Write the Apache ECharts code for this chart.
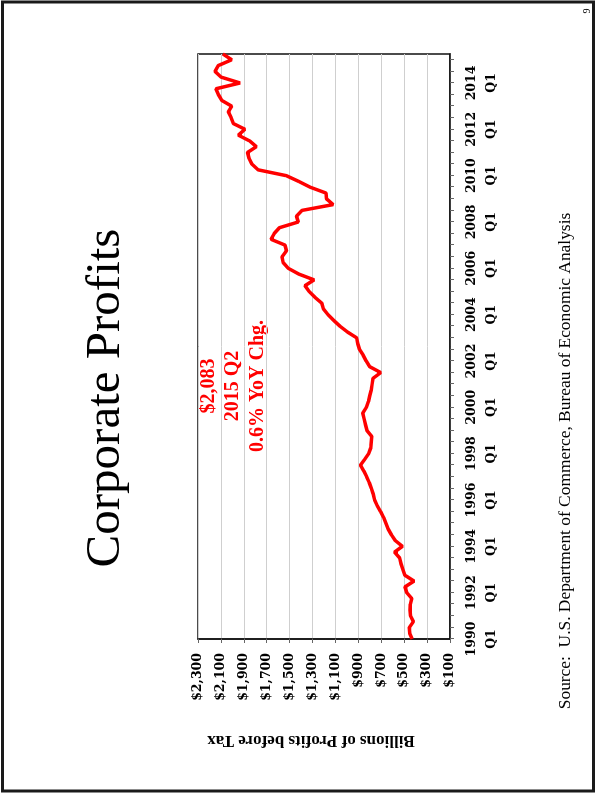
<!DOCTYPE html>
<html>
<head>
<meta charset="utf-8">
<script src="https://cdn.jsdelivr.net/npm/echarts@6/dist/echarts.min.js"></script>
<style>
  html, body { margin: 0; padding: 0; background: #fff; overflow: hidden; }
  /* the slide is drawn landscape and turned a quarter turn, like the printed page */
  #page {
    position: absolute; left: 0; top: 797px;
    width: 797px; height: 597px;
    transform-origin: 0 0; transform: rotate(-90deg);
  }
</style>
</head>
<body>
<div id="page"></div>
<script>
// quarters 1990 Q1 .. 2015 Q2
const quarters = [];
for (let y = 1990; y <= 2015; y++) {
  for (let q = 1; q <= 4; q++) {
    if (y === 2015 && q > 2) break;
    quarters.push(y + ' Q' + q);
  }
}

// corporate profits before tax, billions of dollars
const profits = [
  430, 452, 455, 420, 445, 450, 446, 434,     // 1990-1991
  478, 493, 414, 493, 512, 528, 540, 585,     // 1992-1993
  516, 578, 612, 640, 660, 680, 706, 735,     // 1994-1995
  758, 770, 786, 805, 827, 852, 882, 845,     // 1996-1997
  810, 792, 788, 784, 825, 838, 850, 862,     // 1998-1999
  830, 812, 800, 788, 780, 772, 705, 800,     // 2000-2001
  832, 858, 890, 905, 915, 995, 1060, 1115,   // 2002-2003
  1165, 1206, 1220, 1279, 1330, 1366, 1287, 1420, // 2004-2005
  1512, 1557, 1566, 1528, 1540, 1662, 1635, 1590, // 2006-2007
  1425, 1440, 1392, 1120, 1178, 1183, 1320, 1420, // 2008-2009
  1530, 1775, 1830, 1855, 1868, 1790, 1850, 1948, // 2010-2011
  1890, 1992, 2010, 2035, 2006, 2093, 2122, 2143, // 2012-2013
  1933, 2098, 2152, 2123, 2006, 2083              // 2014-2015 Q2
];

const valueMin = 100;
const valueMax = 2300;
const valueStep = 200;

const noteLines = ['$2,083', '2015 Q2', '0.6% YoY Chg.'];
const titleText = 'Corporate Profits';
const axisTitle = 'Billions of Profits before Tax';
const sourceText = 'Source:  U.S. Department of Commerce, Bureau of Economic Analysis';

const serif = '"Liberation Serif", "Times New Roman", serif';
const tickFont = '"DejaVu Serif", serif';

let chart = echarts.init(document.getElementById('page'), null, {renderer: 'canvas'});

let option = {
  backgroundColor: '#fff',
  animation: false,
  grid: {
    left: 158, right: 54, top: 198, bottom: 147,
    show: true, borderColor: '#111', borderWidth: 1.5
  },
  xAxis: {
    type: 'category',
    data: quarters,
    boundaryGap: false,
    axisLine: {lineStyle: {color: '#111', width: 1.5}},
    axisTick: {
      length: 4,
      interval: (i) => i % 2 === 0,
      lineStyle: {color: '#666', width: 1}
    },
    axisLabel: {
      interval: (i) => i % 8 === 0,
      formatter: (v) => v.replace(' ', '\n'),
      fontFamily: tickFont, fontWeight: 'bold', fontSize: 12.5,
      lineHeight: 20, color: '#000', margin: 12
    },
    splitLine: {show: false}
  },
  yAxis: {
    type: 'value',
    min: valueMin, max: valueMax, interval: valueStep,
    axisLine: {show: true, lineStyle: {color: '#111', width: 1.5}},
    axisTick: {show: true, length: 4, lineStyle: {color: '#666'}},
    axisLabel: {
      formatter: (v) => '$' + v.toLocaleString('en-US'),
      fontFamily: tickFont, fontWeight: 'bold', fontSize: 12.5,
      color: '#000', margin: 14
    },
    splitLine: {lineStyle: {color: '#cfcfcf', width: 1}}
  },
  series: [{
    type: 'line',
    data: profits,
    symbol: 'none',
    lineStyle: {color: '#ff0000', width: 3.5},
    z: 5
  }],
  graphic: [
    {
      type: 'rect', silent: true,
      shape: {x: 6, y: 2.5, width: 789, height: 591},
      style: {fill: 'none', stroke: '#1a1a1a', lineWidth: 3}
    },
    {
      type: 'text', x: 399, y: 106,
      style: {text: titleText, font: '49px ' + serif, fill: '#000',
              textAlign: 'center', textVerticalAlign: 'middle'}
    },
    {
      type: 'text', x: 411, y: 209,
      style: {text: noteLines[0], font: 'bold 20px ' + serif, fill: '#ff0000',
              textAlign: 'center', textVerticalAlign: 'middle'}
    },
    {
      type: 'text', x: 411, y: 233,
      style: {text: noteLines[1], font: 'bold 20px ' + serif, fill: '#ff0000',
              textAlign: 'center', textVerticalAlign: 'middle'}
    },
    {
      type: 'text', x: 411, y: 258,
      style: {text: noteLines[2], font: 'bold 20px ' + serif, fill: '#ff0000',
              textAlign: 'center', textVerticalAlign: 'middle'}
    },
    {
      type: 'text', x: 57, y: 311, rotation: Math.PI / 2,
      style: {text: axisTitle, font: 'bold 17px ' + serif, fill: '#000',
              textAlign: 'center', textVerticalAlign: 'middle'}
    },
    {
      type: 'text', x: 336, y: 565,
      style: {text: sourceText, font: '17.4px ' + serif, fill: '#000',
              textAlign: 'center', textVerticalAlign: 'middle'}
    },
    {
      type: 'text', x: 786, y: 587,
      style: {text: '9', font: '10px ' + serif, fill: '#000',
              textAlign: 'center', textVerticalAlign: 'middle'}
    }
  ]
};

chart.setOption(option);
</script>
</body>
</html>
